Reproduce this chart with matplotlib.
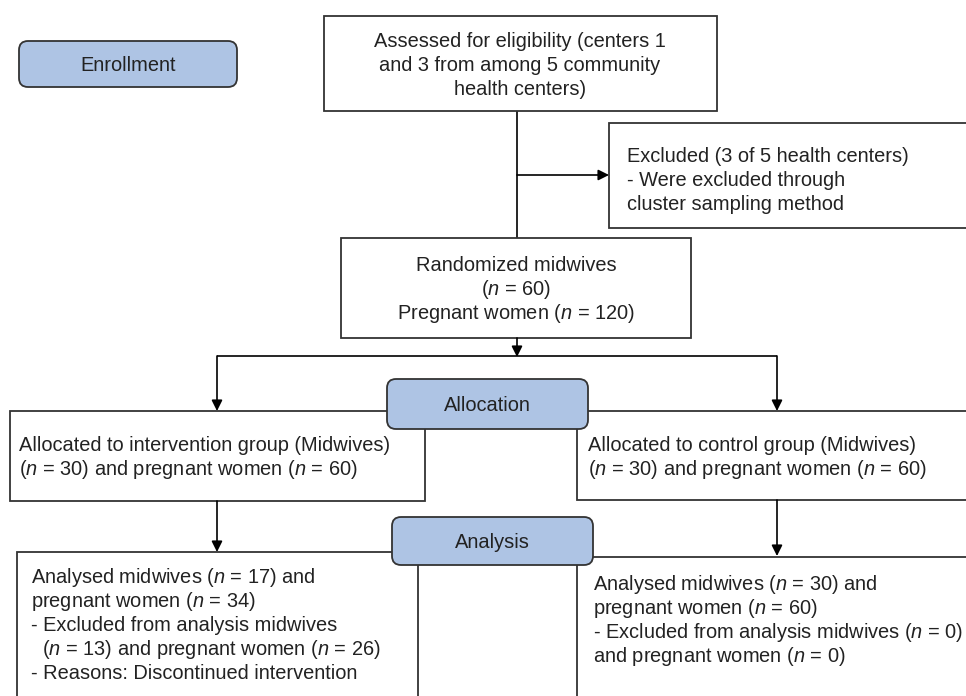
import matplotlib.pyplot as plt
from matplotlib.patches import Rectangle, FancyBboxPatch

plt.rcParams['font.family'] = ['Liberation Sans', 'DejaVu Sans']
plt.rcParams['mathtext.fontset'] = 'custom'
plt.rcParams['mathtext.rm'] = 'Liberation Sans'
plt.rcParams['mathtext.it'] = 'Liberation Sans:italic'

# stage labels (blue rounded boxes)
stages = ['Enrollment', 'Allocation', 'Analysis']

# counts
centers_total = 5
centers_excluded = 3
midwives_random = 60
women_random = 120
midwives_alloc = [30, 30]          # intervention, control
women_alloc = [60, 60]
midwives_analysed = [17, 30]
women_analysed = [34, 60]
midwives_lost = [13, 0]
women_lost = [26, 0]

N = '$n$'

assessed_txt = ['Assessed for eligibility (centers 1',
                'and 3 from among %d community' % centers_total,
                'health centers)']
excluded_txt = ['Excluded (%d of %d health centers)' % (centers_excluded, centers_total),
                '- Were excluded through',
                'cluster sampling method']
random_txt = ['Randomized midwives',
              '(%s = %d)' % (N, midwives_random),
              'Pregnant women (%s = %d)' % (N, women_random)]
interv_txt = ['Allocated to intervention group (Midwives)',
              '(%s = %d) and pregnant women (%s = %d)' % (N, midwives_alloc[0], N, women_alloc[0])]
control_txt = ['Allocated to control group (Midwives)',
               '(%s = %d) and pregnant women (%s = %d)' % (N, midwives_alloc[1], N, women_alloc[1])]
an_left_txt = ['Analysed midwives (%s = %d) and' % (N, midwives_analysed[0]),
               'pregnant women (%s = %d)' % (N, women_analysed[0]),
               '- Excluded from analysis midwives',
               '  (%s = %d) and pregnant women (%s = %d)' % (N, midwives_lost[0], N, women_lost[0]),
               '- Reasons: Discontinued intervention']
an_right_txt = ['Analysed midwives (%s = %d) and' % (N, midwives_analysed[1]),
                'pregnant women (%s = %d)' % (N, women_analysed[1]),
                '- Excluded from analysis midwives (%s = %d)' % (N, midwives_lost[1]),
                'and pregnant women (%s = %d)' % (N, women_lost[1])]

fig = plt.figure(figsize=(9.66, 6.96), dpi=100)
ax = fig.add_axes([0, 0, 1, 1])
ax.set_xlim(0, 966)
ax.set_ylim(696, 0)
ax.axis('off')

EDGE = '#333333'
TXT = '#222222'
BLUE = '#aec4e4'
FS = 14.4
LS = 24  # pixel distance between baselines


def box(x0, y0, x1, y1):
    ax.add_patch(Rectangle((x0, y0), x1 - x0, y1 - y0, fc='white', ec=EDGE, lw=1.3, zorder=2))


def stage(x0, y0, x1, y1, label):
    ax.add_patch(FancyBboxPatch((x0, y0), x1 - x0, y1 - y0,
                                boxstyle='round,pad=0,rounding_size=9',
                                fc=BLUE, ec=EDGE, lw=1.3, zorder=4))
    ax.text((x0 + x1) / 2, (y0 + y1) / 2 + 7, label, ha='center', va='baseline',
            fontsize=FS, color=TXT, zorder=5)


def line(xs, ys):
    ax.plot(xs, ys, color='black', lw=1.2, zorder=1, solid_capstyle='butt')


def arrow(x0, y0, x1, y1):
    ax.annotate('', xy=(x1, y1), xytext=(x0, y0),
                arrowprops=dict(arrowstyle='-|>', color='black', lw=1.2,
                                mutation_scale=16, shrinkA=0, shrinkB=0), zorder=3)


def txt(x, y, lines, ha='left'):
    for i, s in enumerate(lines):
        ax.text(x, y + i * LS, s, ha=ha, va='baseline', fontsize=FS,
                color=TXT, zorder=3)


# boxes
box(324, 16, 717, 111)
box(609, 123, 980, 228)
box(341, 238, 691, 338)
box(10, 411, 425, 501)
box(577, 411, 980, 500)
box(17, 552, 418, 710)
box(577, 557, 980, 710)

# connectors
line([517, 517], [111, 238])
arrow(517, 175, 609, 175)
arrow(517, 338, 517, 357)
line([217, 777], [356, 356])
arrow(217, 356, 217, 411)
arrow(777, 356, 777, 411)
arrow(217, 501, 217, 552)
arrow(777, 500, 777, 556)

# stage labels
stage(19, 41, 237, 87, stages[0])
stage(387, 379, 588, 429, stages[1])
stage(392, 517, 593, 565, stages[2])

# texts
txt(520, 47, assessed_txt, ha='center')
txt(627, 162, excluded_txt)
txt(516, 271, random_txt, ha='center')
txt(19, 451, interv_txt)
txt(588, 451, control_txt)
txt(31, 583, an_left_txt)
txt(593, 590, an_right_txt)

fig.savefig('out.png', dpi=100)
